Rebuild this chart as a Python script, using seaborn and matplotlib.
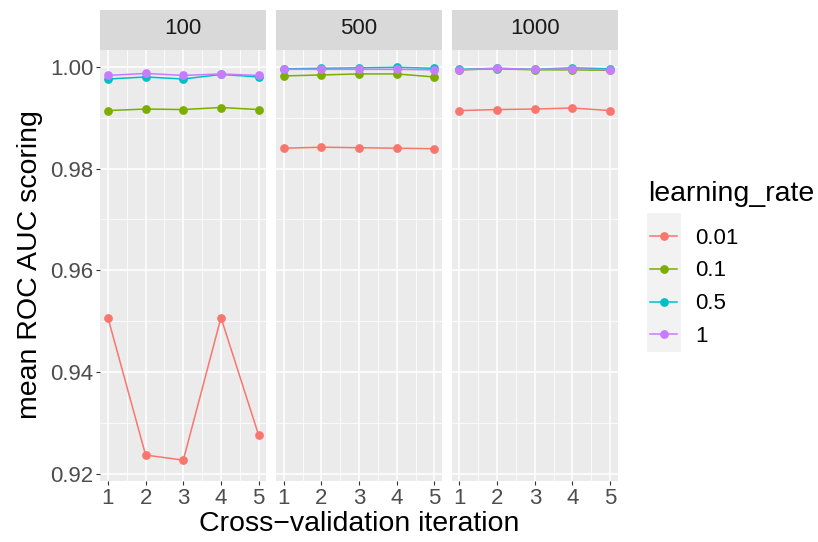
import numpy as np
import pandas as pd
import matplotlib
matplotlib.use('Agg')
import matplotlib.pyplot as plt
import seaborn as sns
from matplotlib.patches import Rectangle
from matplotlib.lines import Line2D
from matplotlib.ticker import MultipleLocator, FormatStrFormatter

iterations = [1, 2, 3, 4, 5]
n_estimators = [100, 500, 1000]
learning_rates = ['0.01', '0.1', '0.5', '1']
colors = ['#F8766D', '#7CAE00', '#00BFC4', '#C77CFF']

# mean ROC AUC per cross-validation iteration
auc_100 = {
    '0.01': [0.9507, 0.9237, 0.9227, 0.9507, 0.9276],
    '0.1':  [0.9914, 0.9917, 0.9916, 0.9920, 0.9916],
    '0.5':  [0.9976, 0.9980, 0.9976, 0.9985, 0.9980],
    '1':    [0.9983, 0.9987, 0.9983, 0.9986, 0.9983],
}
auc_500 = {
    '0.01': [0.9840, 0.9842, 0.9841, 0.9840, 0.9839],
    '0.1':  [0.9982, 0.9984, 0.9986, 0.9986, 0.9980],
    '0.5':  [0.9996, 0.9997, 0.9998, 0.9999, 0.9997],
    '1':    [0.9995, 0.9995, 0.9995, 0.9995, 0.9994],
}
auc_1000 = {
    '0.01': [0.9914, 0.9916, 0.9917, 0.9919, 0.9914],
    '0.1':  [0.9994, 0.9996, 0.9994, 0.9994, 0.9993],
    '0.5':  [0.9995, 0.9997, 0.9995, 0.9998, 0.9996],
    '1':    [0.9994, 0.9997, 0.9995, 0.9996, 0.9994],
}

rows = []
for n, tab in zip(n_estimators, [auc_100, auc_500, auc_1000]):
    for lr in learning_rates:
        for it, v in zip(iterations, tab[lr]):
            rows.append({'n_estimators': n, 'iteration': it, 'learning_rate': lr, 'auc': v})
df = pd.DataFrame(rows)

plt.rcParams['font.family'] = ['Liberation Sans', 'DejaVu Sans']
W, H = 818, 542
small, big = 16, 20.5
fig, axes = plt.subplots(1, 3, figsize=(W / 100, H / 100), dpi=100, sharey=True)
fig.subplots_adjust(left=100.4 / W, right=617.7 / W, bottom=1 - 481 / H, top=1 - 49.5 / H, wspace=0.06)

pal = dict(zip(learning_rates, colors))
for i, (ax, n) in enumerate(zip(axes, n_estimators)):
    ax.set_facecolor('#EBEBEB')
    sub = df[df['n_estimators'] == n]
    sns.lineplot(data=sub, x='iteration', y='auc', hue='learning_rate', hue_order=learning_rates,
                 palette=pal, marker='o', markersize=6.3, markeredgewidth=0, linewidth=1.1,
                 ax=ax, legend=False)
    ax.set_xlim(0.8, 5.2)
    ax.set_ylim(0.9186, 1.0034)
    ax.set_xticks(iterations)
    ax.xaxis.set_minor_locator(MultipleLocator(0.5))
    ax.set_yticks([0.92, 0.94, 0.96, 0.98, 1.00])
    ax.yaxis.set_minor_locator(MultipleLocator(0.01))
    ax.yaxis.set_major_formatter(FormatStrFormatter('%.2f'))
    ax.grid(which='major', color='white', linewidth=1.1)
    ax.grid(which='minor', color='white', linewidth=0.55)
    ax.set_axisbelow(True)
    for s in ax.spines.values():
        s.set_visible(False)
    ax.tick_params(which='major', length=3.2, width=0.8, color='#333333', labelcolor='#4D4D4D',
                   labelsize=small, pad=2)
    ax.tick_params(which='minor', length=0)
    if i > 0:
        ax.tick_params(axis='y', which='both', left=False)
    ax.set_xlabel('')
    ax.set_ylabel('')
    ax.add_patch(Rectangle((0, 1), 1, 40 / 431.5, transform=ax.transAxes, clip_on=False,
                           facecolor='#D9D9D9', edgecolor='none'))
    ax.text(0.5, 1 + 21 / 431.5, str(n), transform=ax.transAxes, ha='center', va='center',
            fontsize=small, color='#1A1A1A')

fig.text(359 / W, 1 - 524 / H, 'Cross\u2212validation iteration', ha='center', va='center', fontsize=big)
fig.text(30 / W, 1 - 265 / H, 'mean ROC AUC scoring', ha='center', va='center', rotation=90, fontsize=big)

# legend, laid out like ggplot's guide
fig.patches.append(Rectangle((646.7 / W, 1 - 352 / H), 34.3 / W, 139 / H, transform=fig.transFigure,
                             facecolor='#F2F2F2', edgecolor='none', zorder=0))
fig.text(648 / W, 1 - 200.7 / H, 'learning_rate', ha='left', va='baseline', fontsize=big)
key_y = [235.7, 268.5, 301.5, 334.2]
for lab, c, yy in zip(learning_rates, colors, key_y):
    fy = 1 - yy / H
    fig.add_artist(Line2D([650 / W, 677 / W], [fy, fy], color=c, linewidth=1.1,
                          transform=fig.transFigure))
    fig.add_artist(Line2D([663.5 / W], [fy], color=c, marker='o', markersize=6.3,
                          markeredgewidth=0, transform=fig.transFigure))
    fig.text(695 / W, 1 - (yy + 7.8) / H, lab, ha='left', va='baseline', fontsize=small)

fig.savefig('out.png', dpi=100)
